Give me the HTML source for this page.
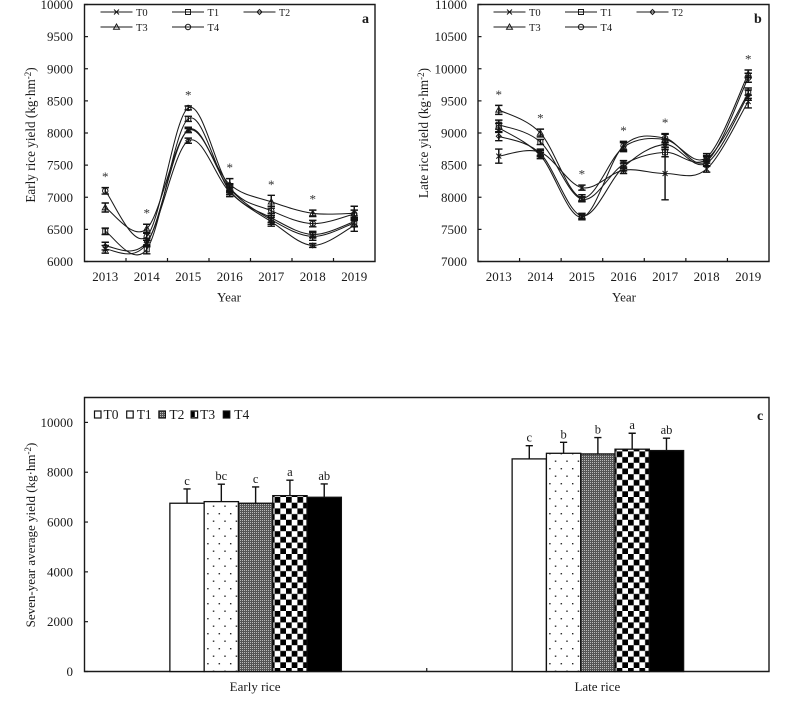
<!DOCTYPE html>
<html lang="en">
<head>
<meta charset="utf-8">
<title>Rice yield charts</title>
<style>
html,body{margin:0;padding:0;background:#fff;}
svg{display:block;font-family:"Liberation Serif",serif;fill:#1a1a1a;filter:blur(0.3px);}
</style>
</head>
<body>
<svg id="chart" xmlns="http://www.w3.org/2000/svg" width="787" height="705" viewBox="0 0 787 705">
  <defs>
    <pattern id="p-dots" patternUnits="userSpaceOnUse" width="11.4" height="15">
      <rect width="11.4" height="15" fill="#fff"/>
      <rect x="2" y="3" width="1.4" height="1.4" fill="#222"/>
      <rect x="7.7" y="10.5" width="1.4" height="1.4" fill="#222"/>
    </pattern>
    <pattern id="p-dense" patternUnits="userSpaceOnUse" width="2" height="2">
      <rect width="2" height="2" fill="#555"/>
      <rect width="1" height="1" fill="#bbb"/>
    </pattern>
    <pattern id="p-check" patternUnits="userSpaceOnUse" width="11.4" height="11.4" patternTransform="translate(1,6.8)">
      <rect width="11.4" height="11.4" fill="#fff"/>
      <rect width="5.7" height="5.7" fill="#000"/>
      <rect x="5.7" y="5.7" width="5.7" height="5.7" fill="#000"/>
    </pattern>
  </defs>
  <g id="panel-a"></g>
  <g id="panel-b"></g>
  <g id="panel-c"></g>

  <text x="362" y="23" font-size="14" font-weight="bold">a</text>
  <text x="754" y="23" font-size="14" font-weight="bold">b</text>
  <text x="757" y="420" font-size="14" font-weight="bold">c</text>

  <text transform="translate(35,135) rotate(-90)" text-anchor="middle" font-size="13.2">Early rice yield (kg·hm<tspan dy="-4" font-size="9">-2</tspan><tspan dy="4">)</tspan></text>
  <text transform="translate(428,133) rotate(-90)" text-anchor="middle" font-size="13.2">Late rice yield (kg·hm<tspan dy="-4" font-size="9">-2</tspan><tspan dy="4">)</tspan></text>
  <text transform="translate(35,535) rotate(-90)" text-anchor="middle" font-size="13">Seven-year average yield (kg·hm<tspan dy="-4" font-size="9">-2</tspan><tspan dy="4">)</tspan></text>
  <text x="229" y="301.5" text-anchor="middle" font-size="13">Year</text>
  <text x="624" y="301.5" text-anchor="middle" font-size="13">Year</text>
</svg>
<script>
// Shared categories and ticks
const years = ['2013', '2014', '2015', '2016', '2017', '2018', '2019'];
const seriesNames = ['T0', 'T1', 'T2', 'T3', 'T4'];
const aTicks = [6000, 6500, 7000, 7500, 8000, 8500, 9000, 9500, 10000];
const bTicks = [7000, 7500, 8000, 8500, 9000, 9500, 10000, 10500, 11000];
const cTicks = [0, 2000, 4000, 6000, 8000, 10000];

// Panel a: early rice yield
const aT0 = [6190, 6280, 8050, 7130, 6650, 6390, 6600];
const aT1 = [6470, 6190, 8220, 7100, 6680, 6420, 6620];
const aT2 = [6240, 6300, 7880, 7080, 6620, 6250, 6560];
const aT3 = [6840, 6510, 8040, 7200, 6930, 6750, 6750];
const aT4 = [7100, 6390, 8390, 7150, 6790, 6590, 6740];
const aErrT0 = [60, 50, 40, 60, 70, 60, 60];
const aErrT1 = [50, 70, 40, 60, 70, 50, 70];
const aErrT2 = [60, 60, 40, 70, 70, 30, 90];
const aErrT3 = [70, 70, 30, 90, 100, 50, 110];
const aErrT4 = [50, 60, 30, 60, 70, 50, 60];
const aStars = ['*', '*', '*', '*', '*', '*', ''];

// Panel b: late rice yield
const bT0 = [8640, 8700, 8150, 8420, 8370, 8440, 9490];
const bT1 = [9130, 8860, 7970, 8510, 8700, 8590, 9620];
const bT2 = [8950, 8680, 7710, 8470, 8820, 8530, 9590];
const bT3 = [9360, 9000, 7990, 8780, 8900, 8620, 9920];
const bT4 = [9080, 8650, 7690, 8800, 8920, 8560, 9860];
const bErrT0 = [110, 50, 40, 50, 410, 50, 100];
const bErrT1 = [70, 40, 40, 60, 70, 60, 80];
const bErrT2 = [70, 50, 40, 60, 80, 50, 80];
const bErrT3 = [70, 60, 50, 70, 80, 60, 60];
const bErrT4 = [70, 50, 40, 70, 70, 70, 70];
const bStars = ['*', '*', '*', '*', '*', '', '*'];

// Panel c: seven-year averages
const cGroups = ['Early rice', 'Late rice'];
const cEarly = [6755, 6820, 6755, 7060, 6995];
const cLate = [8535, 8760, 8735, 8925, 8870];
const cEarlyErr = [575, 700, 655, 620, 535];
const cLateErr = [530, 440, 655, 640, 495];
const cEarlySig = ['c', 'bc', 'c', 'a', 'ab'];
const cLateSig = ['c', 'b', 'b', 'a', 'ab'];

const NS = 'http://www.w3.org/2000/svg';
const INK = '#1a1a1a';
function mk(parent, tag, attrs, txt) {
  const el = document.createElementNS(NS, tag);
  for (const k in attrs) el.setAttribute(k, attrs[k]);
  if (txt !== undefined) el.textContent = txt;
  parent.appendChild(el);
  return el;
}
function scaleLinear(d0, d1, r0, r1) {
  return v => r0 + (v - d0) * (r1 - r0) / (d1 - d0);
}
function smoothPath(pts) {
  let d = 'M' + pts[0][0].toFixed(2) + ' ' + pts[0][1].toFixed(2);
  for (let i = 0; i < pts.length - 1; i++) {
    const p0 = pts[Math.max(i - 1, 0)], p1 = pts[i], p2 = pts[i + 1], p3 = pts[Math.min(i + 2, pts.length - 1)];
    const c1x = p1[0] + (p2[0] - p0[0]) / 6, c1y = p1[1] + (p2[1] - p0[1]) / 6;
    const c2x = p2[0] - (p3[0] - p1[0]) / 6, c2y = p2[1] - (p3[1] - p1[1]) / 6;
    d += 'C' + c1x.toFixed(2) + ' ' + c1y.toFixed(2) + ' ' + c2x.toFixed(2) + ' ' + c2y.toFixed(2) + ' ' + p2[0].toFixed(2) + ' ' + p2[1].toFixed(2);
  }
  return d;
}
function drawMarker(g, kind, x, y) {
  const st = {fill: 'none', stroke: INK, 'stroke-width': 1};
  if (kind === 0) {
    mk(g, 'path', Object.assign({d: `M${x-2.5} ${y-2.5}L${x+2.5} ${y+2.5}M${x-2.5} ${y+2.5}L${x+2.5} ${y-2.5}`}, st));
  } else if (kind === 1) {
    mk(g, 'rect', Object.assign({x: x - 2.5, y: y - 2.5, width: 5, height: 5}, st));
  } else if (kind === 2) {
    mk(g, 'path', Object.assign({d: `M${x} ${y-2.5}L${x+2.5} ${y}L${x} ${y+2.5}L${x-2.5} ${y}Z`}, st));
  } else if (kind === 3) {
    mk(g, 'path', Object.assign({d: `M${x} ${y-3}L${x+3} ${y+2.3}L${x-3} ${y+2.3}Z`}, st));
  } else {
    mk(g, 'circle', Object.assign({cx: x, cy: y, r: 2.7}, st));
  }
}
function drawFrame(g, x0, x1, yTop, yBot, prefix) {
  const frame = mk(g, 'path', {d: `M${x0} ${yBot}V${yTop}H${x1}V${yBot}Z`, fill: 'none', stroke: INK, 'stroke-width': 1.4});
  
  
}
function drawYTicks(g, ticks, y, x0, labelX, prefix) {
  ticks.forEach(t => {
    const tk = mk(g, 'line', {x1: x0, x2: x0 + 3.5, y1: y(t), y2: y(t), stroke: INK, 'stroke-width': 1.2});
    
    
    const lb = mk(g, 'text', {x: labelX, y: y(t) + 4.5, 'text-anchor': 'end', 'font-size': 13}, String(t));
    
    
  });
}
function drawLinePanel(id, prefix, cfg, series, errs, stars, ticks, legendX) {
  const g = document.getElementById(id);
  const step = (cfg.x1 - cfg.x0) / years.length;
  const xA = i => cfg.x0 + step * (i + 0.5);
  const yA = scaleLinear(cfg.min, cfg.max, cfg.yBot, cfg.yTop);
  drawFrame(g, cfg.x0, cfg.x1, cfg.yTop, cfg.yBot, prefix);
  drawYTicks(g, ticks, yA, cfg.x0, cfg.labelX, prefix);
  years.forEach((yr, i) => {
    if (i > 0) {
      const tk = mk(g, 'line', {x1: xA(i) - step / 2, x2: xA(i) - step / 2, y1: cfg.yBot, y2: cfg.yBot - 3.5, stroke: INK, 'stroke-width': 1.2});
      
      
    }
    const lb = mk(g, 'text', {x: xA(i), y: 281, 'text-anchor': 'middle', 'font-size': 13}, yr);
    
    
  });
  series.forEach((vals, s) => {
    const sg = mk(g, 'g', {});
    
    
    const pts = vals.map((v, i) => [xA(i), yA(v)]);
    const line = mk(sg, 'path', {d: smoothPath(pts), fill: 'none', stroke: INK, 'stroke-width': 1.05});
    
    
    vals.forEach((v, i) => {
      const up = yA(v + errs[s][i]), dn = yA(v - errs[s][i]), x = xA(i);
      const eb = mk(sg, 'path', {d: `M${x} ${up}V${dn}M${x-3.7} ${up}H${x+3.7}M${x-3.7} ${dn}H${x+3.7}`, fill: 'none', stroke: '#111', 'stroke-width': 1.45});
      
      
      const mg = mk(sg, 'g', {});
      
      
      drawMarker(mg, s, x, yA(v));
    });
  });
  stars.forEach((st, i) => {
    if (!st) return;
    let top = -Infinity;
    series.forEach((vals, s) => { top = Math.max(top, vals[i] + errs[s][i]); });
    const tx = mk(g, 'text', {x: xA(i), y: yA(top) - 6.5, 'text-anchor': 'middle', 'font-size': 13, fill: '#333'}, st);
    
    
  });
  seriesNames.forEach((nm, s) => {
    const col = s % 3, row = s < 3 ? 0 : 1;
    const lx = legendX + col * 71.5, ly = row === 0 ? 12 : 27;
    const lg = mk(g, 'g', {});
    
    
    mk(lg, 'line', {x1: lx, x2: lx + 32, y1: ly, y2: ly, stroke: INK, 'stroke-width': 1.05});
    drawMarker(lg, s, lx + 16, ly);
    mk(lg, 'text', {x: lx + 35.5, y: ly + 3.8, 'font-size': s === 2 ? 10 : 10.5}, nm);
  });
}

drawLinePanel('panel-a', 'panel-a',
  {x0: 84.5, x1: 375, yTop: 4.5, yBot: 261.5, min: 6000, max: 10000, labelX: 73},
  [aT0, aT1, aT2, aT3, aT4], [aErrT0, aErrT1, aErrT2, aErrT3, aErrT4], aStars, aTicks, 100.5);
drawLinePanel('panel-b', 'panel-b',
  {x0: 478, x1: 769, yTop: 4.5, yBot: 261.5, min: 7000, max: 11000, labelX: 467},
  [bT0, bT1, bT2, bT3, bT4], [bErrT0, bErrT1, bErrT2, bErrT3, bErrT4], bStars, bTicks, 493.5);

// Panel c
(function () {
  const g = document.getElementById('panel-c');
  const x0 = 84.5, x1 = 769, yTop = 397.5, yBot = 671.5;
  const yC = scaleLinear(0, 11000, yBot, yTop);
  const groupW = (x1 - x0) / cGroups.length;
  const barW = 34.3;
  const xBar = (grp, s) => x0 + groupW * (grp + 0.5) + (s - 2.5) * barW;
  const fills = ['#fff', 'url(#p-dots)', 'url(#p-dense)', 'url(#p-check)', '#000'];
  drawFrame(g, x0, x1, yTop, yBot, 'panel-c');
  drawYTicks(g, cTicks, yC, x0, 73, 'panel-c');
  const midTick = mk(g, 'line', {x1: x0 + groupW, x2: x0 + groupW, y1: yBot, y2: yBot - 3.5, stroke: INK, 'stroke-width': 1.2});
  
  
  const vals = [cEarly, cLate], errs = [cEarlyErr, cLateErr], sigs = [cEarlySig, cLateSig];
  cGroups.forEach((name, grp) => {
    const lb = mk(g, 'text', {x: x0 + groupW * (grp + 0.5) - 0.5, y: 691, 'text-anchor': 'middle', 'font-size': 13}, name);
    
    
    seriesNames.forEach((nm, s) => {
      const v = vals[grp][s], top = yC(v), xl = xBar(grp, s), cx = xl + barW / 2, etop = yC(v + errs[grp][s]);
      const eb = mk(g, 'path', {d: `M${cx} ${top}V${etop}M${cx-3.6} ${etop}H${cx+3.6}`, fill: 'none', stroke: '#111', 'stroke-width': 1.4});
      
      
      const bar = mk(g, 'rect', {x: xl, y: top, width: barW, height: yBot - top, fill: fills[s], stroke: '#111', 'stroke-width': 1.3});
      
      
      const sg = mk(g, 'text', {x: cx, y: etop - 4, 'text-anchor': 'middle', 'font-size': 12.5}, sigs[grp][s]);
      
      
    });
  });
  const legendGaps = [9, 10, 10.5, 9, 11];
  seriesNames.forEach((nm, s) => {
    const lx = 94.5 + s * 32.2;
    const lg = mk(g, 'g', {});
    
    
    mk(lg, 'rect', {x: lx, y: 411, width: 6.5, height: 7, fill: fills[s], stroke: '#111', 'stroke-width': 1.2});
    mk(lg, 'text', {x: lx + legendGaps[s], y: 419, 'font-size': 13.5}, nm);
  });
})();
</script>
</body>
</html>
